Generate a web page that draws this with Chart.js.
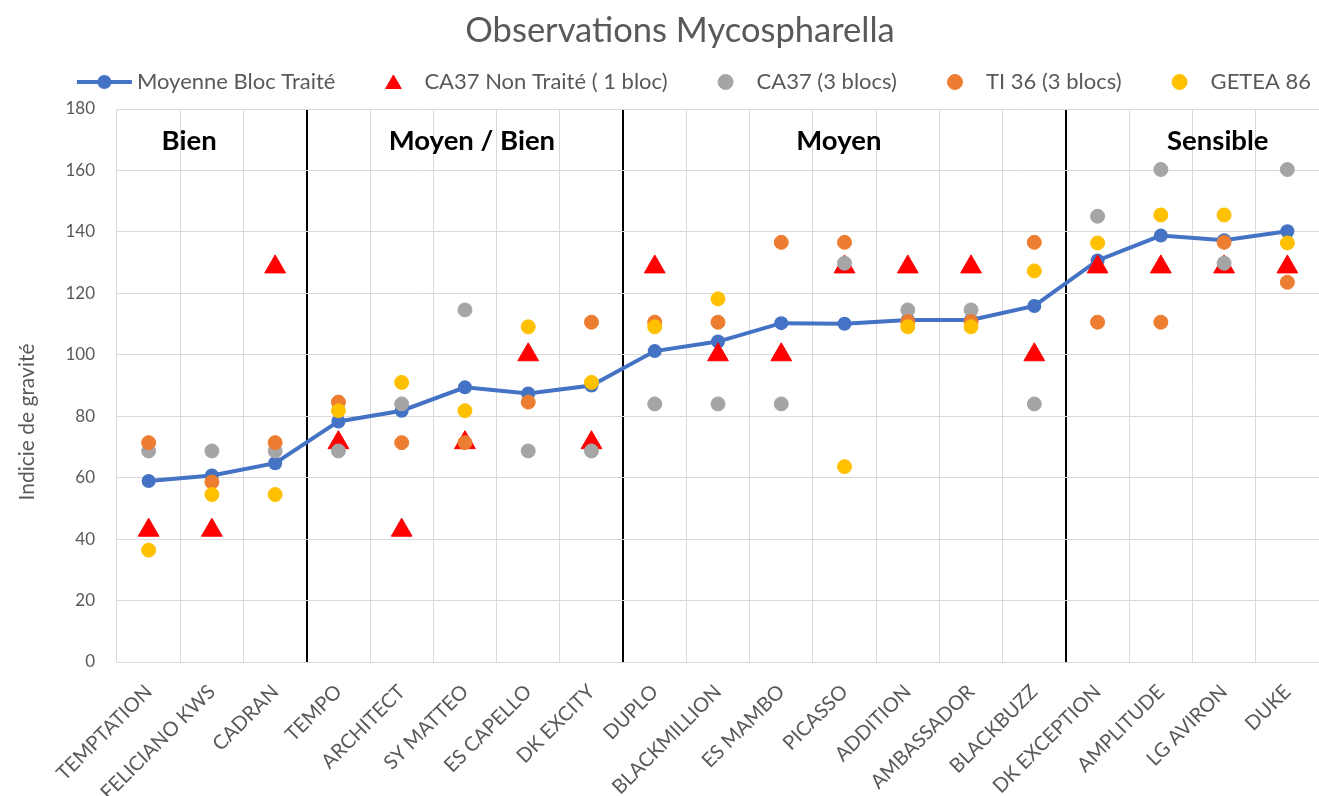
<!DOCTYPE html>
<html>
<head>
<meta charset="utf-8">
<script src="https://cdn.jsdelivr.net/npm/chart.js@4"></script>
<style>
    html, body { margin: 0; padding: 0; background: #fff; overflow: hidden; }
    canvas { display: block; }
</style>
</head>
<body>
<canvas id="mycoChart" width="1319" height="796"></canvas>
<script>
    const categories = ['TEMPTATION', 'FELICIANO KWS', 'CADRAN', 'TEMPO', 'ARCHITECT', 'SY MATTEO', 'ES CAPELLO', 'DK EXCITY',
        'DUPLO', 'BLACKMILLION', 'ES MAMBO', 'PICASSO', 'ADDITION', 'AMBASSADOR', 'BLACKBUZZ',
        'DK EXCEPTION', 'AMPLITUDE', 'LG AVIRON', 'DUKE'];
    const moyenneBloc = [58.9, 60.7, 64.7, 78.3, 81.8, 89.4, 87.4, 90.0, 101.2, 104.3, 110.3, 110.1, 111.3, 111.3, 115.9, 130.7, 138.8, 137.3, 140.2];
    const ca37NonTraite = [42.9, 42.9, 128.6, 71.4, 42.9, 71.4, 100, 71.4, 128.6, 100, 100, 128.6, 128.6, 128.6, 100, 128.6, 128.6, 128.6, 128.6];
    const ca37Blocs = [68.7, 68.7, 68.7, 68.7, 84.0, 114.6, 68.7, 68.7, 84.0, 84.0, 84.0, 129.8, 114.6, 114.6, 84.0, 145.1, 160.3, 129.8, 160.3];
    const ti36Blocs = [71.4, 58.6, 71.4, 84.6, 71.4, 71.4, 84.6, 110.6, 110.6, 110.6, 136.6, 136.6, 110.8, 110.8, 136.6, 110.6, 110.6, 136.6, 123.6];
    const getea86 = [36.4, 54.5, 54.5, 81.8, 91.0, 81.8, 109.1, 91.0, 109.1, 118.2, null, 63.6, 109.1, 109.1, 127.3, 136.4, 145.5, 145.5, 136.4];
    const yTicks = [0, 20, 40, 60, 80, 100, 120, 140, 160, 180];

    const groupLabels = ['Bien', 'Moyen / Bien', 'Moyen', 'Sensible'];
    const groupStarts = [3, 8, 15]; // first category of each new group

    const FONT = 'Lato, "Noto Sans", sans-serif';
    const TEXT = '#595959';

    // title, y axis title and the group names above the points
    const textPlugin = {
        id: 'chartTexts',
        afterDatasetsDraw(chart) {
            const ctx = chart.ctx;
            const x = chart.scales.x, y = chart.scales.y;
            const centers = [0.64, 5.11, 10.91, 16.9];
            ctx.save();
            ctx.textAlign = 'center';
            ctx.textBaseline = 'middle';

            ctx.font = '34.5px ' + FONT;
            ctx.fillStyle = TEXT;
            ctx.fillText('Observations Mycospharella', 680, 31);

            ctx.font = 'bold 27.5px ' + FONT;
            ctx.fillStyle = '#000';
            groupLabels.forEach((lbl, i) => {
                ctx.fillText(lbl, x.getPixelForValue(centers[i]), y.getPixelForValue(169.6));
            });

            ctx.translate(27, 422);
            ctx.rotate(-Math.PI / 2);
            ctx.font = '21px ' + FONT;
            ctx.fillStyle = TEXT;
            ctx.fillText('Indicie de gravité', 0, 0);
            ctx.restore();
        }
    };

    // Excel-like legend (line + marker for the first series)
    const legendPlugin = {
        id: 'excelLegend',
        afterDraw(chart) {
            const ctx = chart.ctx;
            const ds = chart.data.datasets;
            const y = 82;
            ctx.save();
            ctx.font = '22px ' + FONT;
            ctx.textAlign = 'left';
            ctx.textBaseline = 'middle';
            const widths = ds.map(d => ctx.measureText(d.label).width);
            let total = 0;
            widths.forEach((w, i) => { total += (i === 0 ? 60 : 58 + 31) + w; });
            let xPos = 694 - total / 2;
            ds.forEach((d, i) => {
                ctx.fillStyle = d.pointBackgroundColor;
                ctx.strokeStyle = d.pointBackgroundColor;
                let textX;
                if (i === 0) {
                    ctx.lineWidth = 4;
                    ctx.beginPath();
                    ctx.moveTo(xPos, y);
                    ctx.lineTo(xPos + 55, y);
                    ctx.stroke();
                    ctx.beginPath();
                    ctx.arc(xPos + 27.5, y, 7, 0, Math.PI * 2);
                    ctx.fill();
                    textX = xPos + 60;
                } else {
                    const cx = xPos + 58;
                    ctx.lineWidth = 1;
                    Chart.helpers.drawPoint(ctx, {
                        pointStyle: d.pointStyle,
                        radius: d.pointStyle === 'triangle' ? 9 : 7.5,
                        rotation: 0,
                        borderWidth: 1
                    }, cx, d.pointStyle === 'triangle' ? y + 2 : y);
                    textX = cx + 31;
                }
                ctx.fillStyle = TEXT;
                ctx.fillText(d.label, textX, y);
                xPos = textX + widths[i];
            });
            ctx.restore();
        }
    };

    function scatterSet(label, data, color, style, radius, order) {
        return {
            label: label,
            data: data,
            showLine: false,
            pointStyle: style,
            pointRadius: radius,
            pointHoverRadius: radius,
            pointBackgroundColor: color,
            pointBorderColor: color,
            pointBorderWidth: 1,
            backgroundColor: color,
            borderColor: color,
            order: order
        };
    }

    const ctx = document.getElementById('mycoChart').getContext('2d');
    window.mycoChart = new Chart(ctx, {
        type: 'line',
        data: {
            labels: categories,
            datasets: [
                {
                    label: 'Moyenne Bloc Traité',
                    data: moyenneBloc,
                    borderColor: '#4472C4',
                    backgroundColor: '#4472C4',
                    borderWidth: 4,
                    pointRadius: 7,
                    pointHoverRadius: 7,
                    pointBorderWidth: 0,
                    pointBackgroundColor: '#4472C4',
                    pointBorderColor: '#4472C4',
                    tension: 0,
                    order: 5
                },
                scatterSet('CA37 Non Traité ( 1 bloc)', ca37NonTraite, '#FF0000', 'triangle', 12, 4),
                scatterSet('CA37 (3 blocs)', ca37Blocs, '#A5A5A5', 'circle', 7, 3),
                scatterSet('TI 36 (3 blocs)', ti36Blocs, '#ED7D31', 'circle', 7, 2),
                scatterSet('GETEA 86', getea86, '#FFC000', 'circle', 7, 1)
            ]
        },
        options: {
            responsive: false,
            animation: false,
            // the plot area runs a little past the right edge, as in the original
            layout: { autoPadding: false, padding: { top: 109, right: -11, left: -1, bottom: 0 } },
            plugins: {
                legend: { display: false },
                tooltip: { enabled: false },
                title: { display: false }
            },
            scales: {
                x: {
                    offset: true,
                    grid: {
                        offset: true,
                        drawTicks: false,
                        color: c => groupStarts.includes(c.index) ? '#000' : '#D9D9D9',
                        lineWidth: c => groupStarts.includes(c.index) ? 2 : 1
                    },
                    border: { display: false },
                    ticks: {
                        autoSkip: false,
                        minRotation: 45,
                        maxRotation: 45,
                        padding: 18,
                        color: TEXT,
                        font: { family: FONT, size: 20 }
                    },
                    afterFit: s => { s.height = 134; s.paddingLeft = 0; s.paddingRight = 0; }
                },
                y: {
                    min: 0,
                    max: 180,
                    afterBuildTicks: s => { s.ticks = yTicks.map(v => ({ value: v })); },
                    grid: { color: '#D9D9D9', drawTicks: false },
                    border: { display: false },
                    ticks: {
                        padding: 22,
                        color: TEXT,
                        font: { family: FONT, size: 17 }
                    },
                    afterFit: s => { s.width = 118; }
                }
            }
        },
        plugins: [textPlugin, legendPlugin]
    });
</script>
</body>
</html>
